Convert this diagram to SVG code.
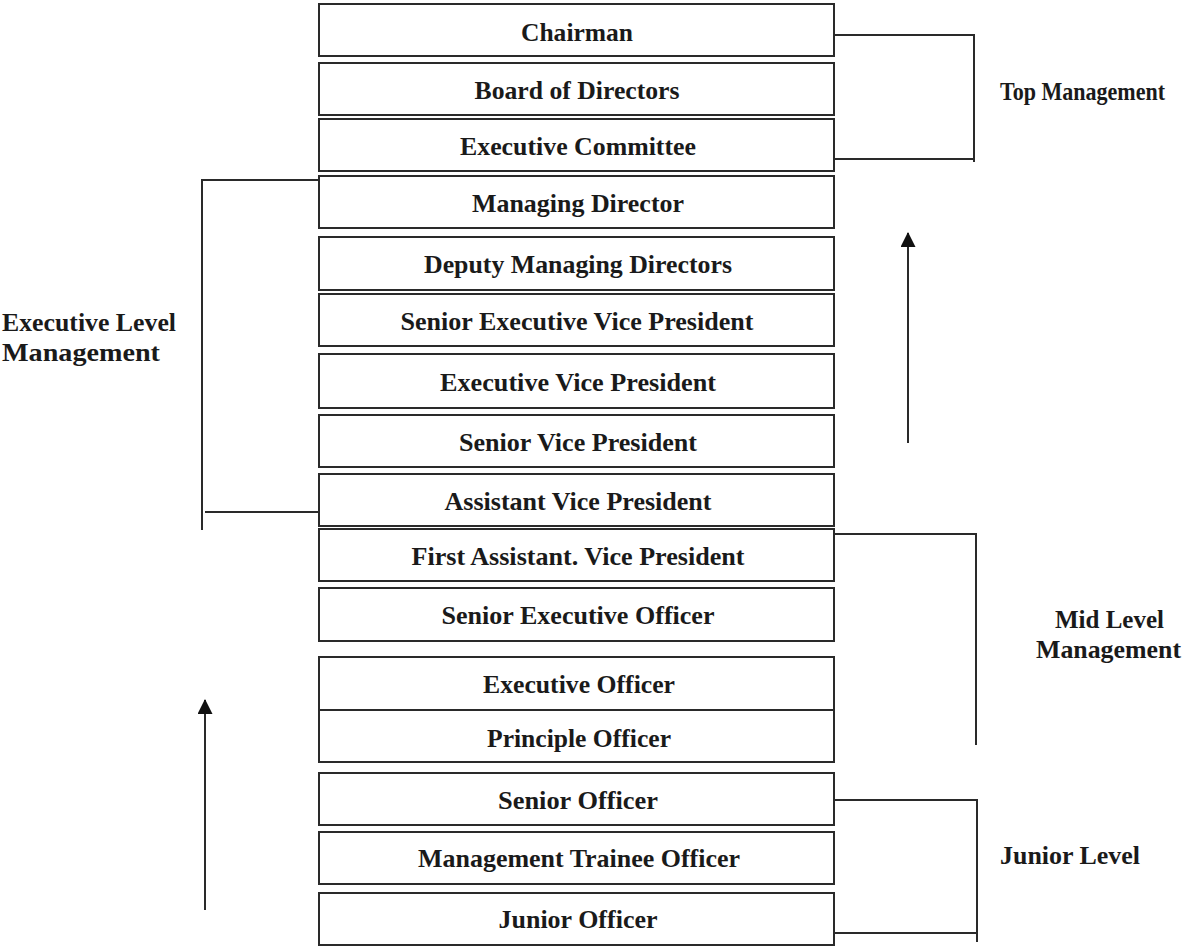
<svg xmlns="http://www.w3.org/2000/svg" width="1197" height="947" viewBox="0 0 1197 947">
<style>
.box{fill:#fff;stroke:#2a2a2a;stroke-width:2}
.t{font-family:"Liberation Serif","Times New Roman",serif;font-weight:bold;font-size:25px;fill:#1a1a1a;text-anchor:middle}
.lbl{font-family:"Liberation Serif","Times New Roman",serif;font-weight:bold;font-size:25px;fill:#1a1a1a}
.ln{fill:none;stroke:#2a2a2a;stroke-width:2}
</style>
<defs>
<marker id="ah" markerWidth="15" markerHeight="15" refX="14" refY="7.5" orient="auto" markerUnits="userSpaceOnUse" viewBox="0 0 15 15">
<path d="M0,0 L15,7.5 L0,15 Z" fill="#111"/>
</marker>
</defs>
<rect width="1197" height="947" fill="#fff"/>
<g id="n1"><rect class="box" x="319" y="4" width="515" height="52"/><text class="t" x="577" y="41" textLength="112" lengthAdjust="spacingAndGlyphs">Chairman</text></g>
<g id="n2"><rect class="box" x="319" y="63" width="515" height="52"/><text class="t" x="577" y="99" textLength="205" lengthAdjust="spacingAndGlyphs">Board of Directors</text></g>
<g id="n3"><rect class="box" x="319" y="119" width="515" height="52"/><text class="t" x="578" y="155" textLength="236" lengthAdjust="spacingAndGlyphs">Executive Committee</text></g>
<g id="n4"><rect class="box" x="319" y="176" width="515" height="52"/><text class="t" x="578" y="212" textLength="212" lengthAdjust="spacingAndGlyphs">Managing Director</text></g>
<g id="n5"><rect class="box" x="319" y="237" width="515" height="53"/><text class="t" x="578" y="273" textLength="308" lengthAdjust="spacingAndGlyphs">Deputy Managing Directors</text></g>
<g id="n6"><rect class="box" x="319" y="294" width="515" height="52"/><text class="t" x="577" y="330" textLength="353" lengthAdjust="spacingAndGlyphs">Senior Executive Vice President</text></g>
<g id="n7"><rect class="box" x="319" y="354" width="515" height="54"/><text class="t" x="578" y="391" textLength="276" lengthAdjust="spacingAndGlyphs">Executive Vice President</text></g>
<g id="n8"><rect class="box" x="319" y="415" width="515" height="52"/><text class="t" x="578" y="451" textLength="238" lengthAdjust="spacingAndGlyphs">Senior Vice President</text></g>
<g id="n9"><rect class="box" x="319" y="474" width="515" height="52"/><text class="t" x="578" y="510" textLength="267" lengthAdjust="spacingAndGlyphs">Assistant Vice President</text></g>
<g id="n10"><rect class="box" x="319" y="529" width="515" height="52"/><text class="t" x="578" y="565" textLength="333" lengthAdjust="spacingAndGlyphs">First Assistant. Vice President</text></g>
<g id="n11"><rect class="box" x="319" y="588" width="515" height="53"/><text class="t" x="578" y="624" textLength="273" lengthAdjust="spacingAndGlyphs">Senior Executive Officer</text></g>
<g id="n12"><rect class="box" x="319" y="657" width="515" height="53"/><text class="t" x="579" y="693" textLength="192" lengthAdjust="spacingAndGlyphs">Executive Officer</text></g>
<g id="n13"><rect class="box" x="319" y="710" width="515" height="52"/><text class="t" x="579" y="747" textLength="184" lengthAdjust="spacingAndGlyphs">Principle Officer</text></g>
<g id="n14"><rect class="box" x="319" y="773" width="515" height="52"/><text class="t" x="578" y="809" textLength="160" lengthAdjust="spacingAndGlyphs">Senior Officer</text></g>
<g id="n15"><rect class="box" x="319" y="832" width="515" height="52"/><text class="t" x="579" y="867" textLength="322" lengthAdjust="spacingAndGlyphs">Management Trainee Officer</text></g>
<g id="n16"><rect class="box" x="319" y="893" width="515" height="52"/><text class="t" x="578" y="928" textLength="159" lengthAdjust="spacingAndGlyphs">Junior Officer</text></g>
<g id="labels">
<text class="lbl" x="1000" y="100" textLength="165" lengthAdjust="spacingAndGlyphs">Top Management</text>
<text class="lbl" x="2" y="331" textLength="174" lengthAdjust="spacingAndGlyphs">Executive Level</text>
<text class="lbl" x="2" y="361" textLength="158" lengthAdjust="spacingAndGlyphs">Management</text>
<text class="lbl" x="1055" y="628" textLength="109" lengthAdjust="spacingAndGlyphs">Mid Level</text>
<text class="lbl" x="1036" y="658" textLength="145" lengthAdjust="spacingAndGlyphs">Management</text>
<text class="lbl" x="1000" y="864" textLength="140" lengthAdjust="spacingAndGlyphs">Junior Level</text>
</g>
<g id="connectors">
<path class="ln" d="M834,35 H974 V162 M834,159 H974"/>
<path class="ln" d="M319,180 H202 V530 M205,512 H319"/>
<path class="ln" d="M834,534 H976 V745"/>
<path class="ln" d="M834,800 H977 V942 M834,933 H977"/>
<line class="ln" x1="908" y1="443" x2="908" y2="233" marker-end="url(#ah)"/>
<line class="ln" x1="205" y1="910" x2="205" y2="700" marker-end="url(#ah)"/>
</g>
</svg>
